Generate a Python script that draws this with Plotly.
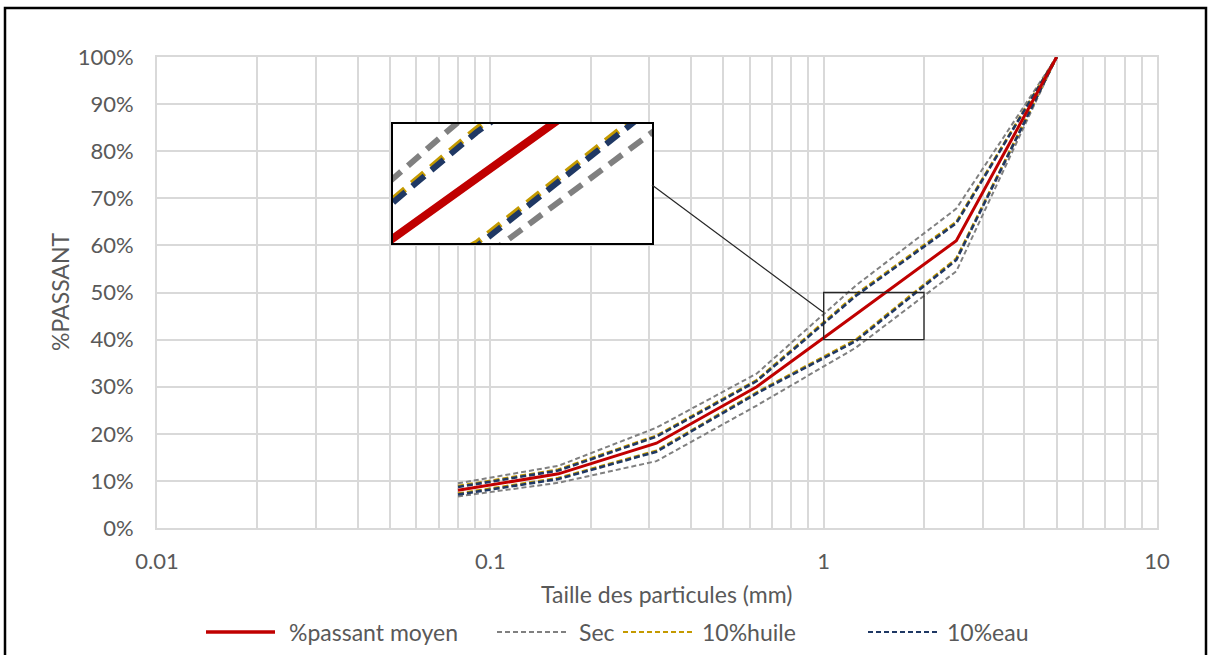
import plotly.graph_objects as go

# ---------------- data ----------------
sizes_mm = [0.08, 0.16, 0.315, 0.63, 1.25, 2.5, 5]
passant_moyen = [8.0, 11.5, 18.0, 30.0, 45.4, 61.0, 100]
sec_haut = [9.5, 13.2, 21.3, 32.8, 51.5, 67.8, 100]
sec_bas = [6.7, 9.6, 14.2, 26.0, 38.3, 54.5, 100]
huile_haut = [8.9, 12.4, 19.6, 31.4, 49.6, 65.0, 100]
huile_bas = [7.3, 10.6, 16.4, 28.8, 40.0, 57.2, 100]
eau_haut = [8.7, 12.2, 19.4, 31.2, 49.3, 64.7, 100]
eau_bas = [7.1, 10.4, 16.2, 28.6, 39.7, 56.9, 100]

x_tickvals = [0.01, 0.1, 1, 10]
x_ticktext = ["0.01", "0.1", "1", "10"]
y_tickvals = list(range(0, 101, 10))
y_ticktext = [f"{v}%" for v in y_tickvals]

legend_names = ["%passant moyen", "Sec", "10%huile", "10%eau"]

RED = "#C00000"
GRAY = "#808080"
GOLD = "#C49A00"
NAVY = "#1F3864"
FONT = "Lato"
TXT = "#595959"
FS = 23
FS_TICK = 22

fig = go.Figure()

series = [
    (sec_haut, GRAY, 2, "5px,3px", 6, "16px,9px"),
    (sec_bas, GRAY, 2, "5px,3px", 6, "16px,9px"),
    (huile_haut, GOLD, 2.6, "6px,3px", 6, "16px,9px"),
    (huile_bas, GOLD, 2.6, "6px,3px", 6, "16px,9px"),
    (eau_haut, NAVY, 2.6, "6px,3px", 6, "16px,9px"),
    (eau_bas, NAVY, 2.6, "6px,3px", 6, "16px,9px"),
    (passant_moyen, RED, 3, "solid", 8, "solid"),
]

# main plot
for ys, col, w, dash, _, _ in series:
    fig.add_trace(go.Scatter(x=sizes_mm, y=ys, mode="lines",
                             line=dict(color=col, width=w, dash=dash),
                             showlegend=False, hoverinfo="skip",
                             xaxis="x", yaxis="y"))

# inset (magnified view)
for ys, col, _, _, w2, dash2 in series:
    fig.add_trace(go.Scatter(x=sizes_mm, y=ys, mode="lines",
                             line=dict(color=col, width=w2, dash=dash2),
                             showlegend=False, hoverinfo="skip",
                             xaxis="x2", yaxis="y2"))

W, H = 1208, 655
L, R, T, B = 157, 51, 57, 127
pw, ph = W - L - R, H - T - B


def px(xp):
    return (xp - L) / pw


def py(yp):
    return (H - B - yp) / ph


grid = "#D9D9D9"

fig.update_layout(
    width=W, height=H,
    margin=dict(l=L, r=R, t=T, b=B),
    paper_bgcolor="white", plot_bgcolor="white",
    font=dict(family=FONT, size=FS, color=TXT),
    showlegend=False,
    xaxis=dict(type="log", range=[-2, 1], tickvals=x_tickvals, ticktext=x_ticktext,
               showgrid=True, gridcolor=grid, gridwidth=2,
               minor=dict(dtick="D1", showgrid=True, gridcolor=grid, gridwidth=2, ticks=""),
               showline=True, linecolor=grid, linewidth=2, mirror=True,
               ticks="", ticklabelstandoff=13, zeroline=False,
               tickfont=dict(family=FONT, size=FS_TICK, color=TXT)),
    yaxis=dict(range=[0, 100], tickvals=y_tickvals, ticktext=y_ticktext,
               showgrid=True, gridcolor=grid, gridwidth=2,
               showline=True, linecolor=grid, linewidth=2, mirror=True,
               ticks="", ticklabelstandoff=17, zeroline=False,
               tickfont=dict(family=FONT, size=FS_TICK, color=TXT)),
    xaxis2=dict(type="log", range=[0, 0.30103], domain=[px(393), px(652)],
                anchor="y2", showgrid=False, showticklabels=False, ticks="",
                zeroline=False, showline=True, linecolor="black", linewidth=2, mirror=True),
    yaxis2=dict(range=[40, 50], domain=[py(243), py(124)], anchor="x2",
                showgrid=False, showticklabels=False, ticks="",
                zeroline=False, showline=True, linecolor="black", linewidth=2, mirror=True),
)

shapes = []
# white background of inset
shapes.append(dict(type="rect", xref="x2 domain", yref="y2 domain", x0=0, x1=1, y0=0, y1=1,
                   fillcolor="white", line=dict(width=0), layer="below"))
# zoom box on main plot
shapes.append(dict(type="rect", xref="x", yref="y", x0=1, x1=2, y0=40, y1=50,
                   line=dict(color="#262626", width=1.3), fillcolor="rgba(0,0,0,0)"))
# connector line
shapes.append(dict(type="line", xref="paper", yref="paper",
                   x0=px(652), y0=py(185), x1=px(823), y1=py(312),
                   line=dict(color="#262626", width=1.2)))
# outer border
shapes.append(dict(type="rect", xref="paper", yref="paper",
                   x0=px(5), x1=px(1206), y0=py(668), y1=py(8),
                   line=dict(color="black", width=2.5), fillcolor="rgba(0,0,0,0)"))

# custom legend
leg_y = py(632)
leg_items = [
    (legend_names[0], RED, "solid", 3.5, 206, 275, 287),
    (legend_names[1], GRAY, "5px,3px", 2, 497, 568, 577),
    (legend_names[2], GOLD, "5px,3px", 2, 623, 693, 700),
    (legend_names[3], NAVY, "5px,3px", 2, 868, 938, 945),
]
annotations = []
for name, col, dash, w, x0, x1, xt in leg_items:
    shapes.append(dict(type="line", xref="paper", yref="paper",
                       x0=px(x0), x1=px(x1), y0=leg_y, y1=leg_y,
                       line=dict(color=col, width=w, dash=dash)))
    annotations.append(dict(text=name, xref="paper", yref="paper", x=px(xt), y=leg_y,
                            xanchor="left", yanchor="middle", showarrow=False,
                            font=dict(family=FONT, size=FS, color=TXT)))

annotations.append(dict(text="Taille des particules (mm)", xref="paper", yref="paper",
                        x=px(666), y=py(594), xanchor="center", yanchor="middle",
                        showarrow=False, font=dict(family=FONT, size=FS, color=TXT)))
annotations.append(dict(text="%PASSANT", xref="paper", yref="paper",
                        x=px(60), y=py(292), xanchor="center", yanchor="middle",
                        textangle=-90, showarrow=False,
                        font=dict(family=FONT, size=FS, color=TXT)))

fig.update_layout(shapes=shapes, annotations=annotations)

fig.write_html("out.html")
